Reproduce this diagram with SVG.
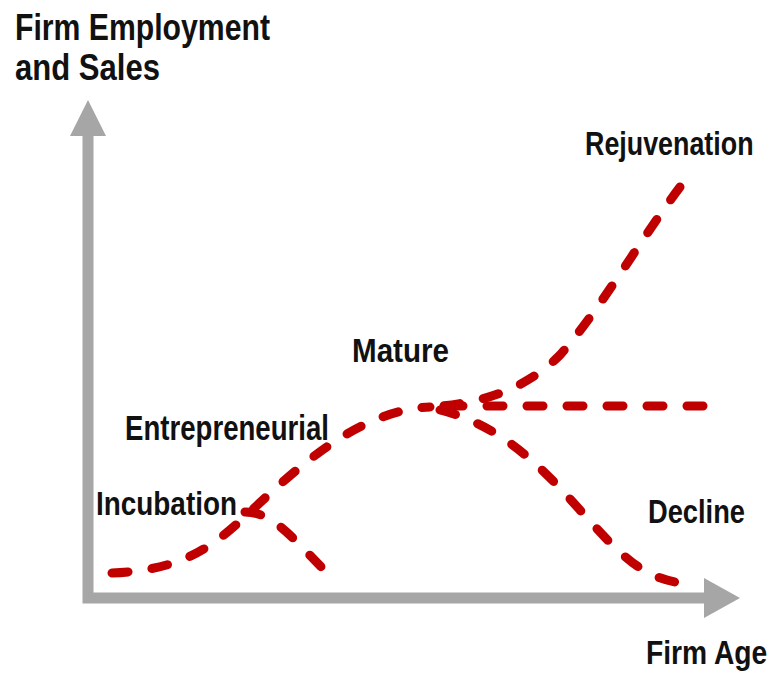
<svg xmlns="http://www.w3.org/2000/svg" width="776" height="674" viewBox="0 0 776 674">
<style>
.lbl{font-family:"Liberation Sans",Arial,sans-serif;font-weight:bold;fill:#111;}
.axis{stroke:#a6a6a6;stroke-width:11;fill:none;}
.head{fill:#a6a6a6;}
.curve{stroke:#c00000;stroke-width:9;fill:none;stroke-linecap:round;stroke-dasharray:16 24;}
</style>
<rect width="776" height="674" fill="#fff"/>
<g id="axes">
<path class="axis" d="M88,132 L88,598 L708,598"/>
<polygon class="head" points="88,100 106,136 70,136"/>
<polygon class="head" points="740,598 704,578 704,618"/>
</g>
<g id="connectors">
<path class="curve" d="M112,573 C180,570 210,550 250,512 C300,465 360,410 430,407"/>
<path class="curve" d="M245,512 C265,512 280,525 300,545 L330,576"/>
<path class="curve" d="M680,187 C640,240 600,310 560,355 C530,385 490,403 430,407"/>
<path class="curve" d="M703,406 L430,406"/>
<path class="curve" d="M440,410 C500,425 540,465 580,510 C620,555 640,575 675,582"/>
</g>
<g id="y-label"><text class="lbl" x="15" y="40" font-size="36" textLength="255" lengthAdjust="spacingAndGlyphs">Firm Employment</text>
<text class="lbl" x="15" y="80" font-size="36" textLength="145" lengthAdjust="spacingAndGlyphs">and Sales</text></g>
<g id="x-label"><text class="lbl" transform="translate(646,664) scale(0.83,1)" x="0" y="0" font-size="34">Firm Age</text></g>
<g id="rejuvenation"><text class="lbl" transform="translate(585,155) scale(0.79,1)" x="0" y="0" font-size="34">Rejuvenation</text></g>
<g id="mature"><text class="lbl" x="352" y="362" font-size="34" textLength="97" lengthAdjust="spacingAndGlyphs">Mature</text></g>
<g id="entrepreneurial"><text class="lbl" x="125" y="440" font-size="35" textLength="204" lengthAdjust="spacingAndGlyphs">Entrepreneurial</text></g>
<g id="incubation"><text class="lbl" x="96" y="515" font-size="34" textLength="141" lengthAdjust="spacingAndGlyphs">Incubation</text></g>
<g id="decline"><text class="lbl" x="648" y="523" font-size="34" textLength="97" lengthAdjust="spacingAndGlyphs">Decline</text></g>
</svg>
